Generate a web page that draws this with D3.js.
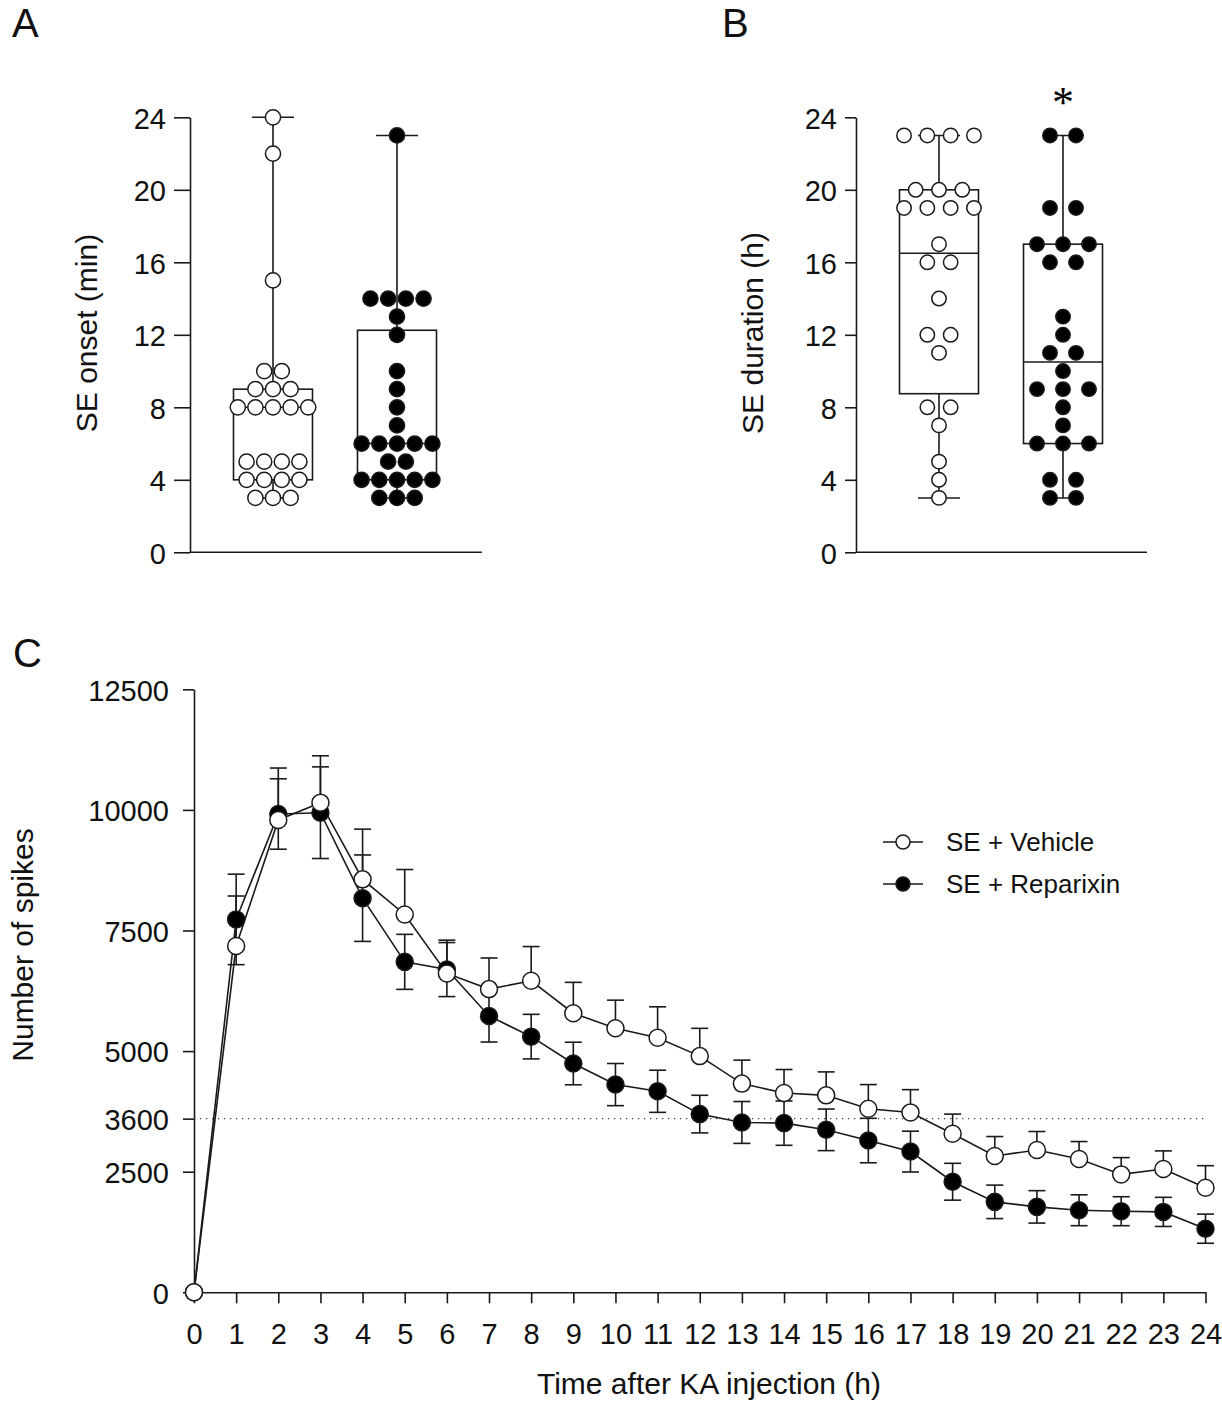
<!DOCTYPE html>
<html>
<head>
<meta charset="utf-8">
<script src="https://cdn.jsdelivr.net/npm/d3@7"></script>
<style>
  body { margin: 0; background: #fff; }
  svg { display: block; font-family: "Liberation Sans", Arial, sans-serif; }
</style>
</head>
<body>
<svg id="fig" width="1222" height="1408"></svg>
<script>
// ---- data ----
const groups = ['Vehicle', 'Reparixin'];
const boxTicks = [0, 4, 8, 12, 16, 20, 24];

// A: SE onset (min), one value per animal
const onsetVehicle = [24, 22, 15, 10, 10, 9, 9, 9, 8, 8, 8, 8, 8, 5, 5, 5, 5, 4, 4, 4, 4, 3, 3, 3];
const onsetReparixin = [23, 14, 14, 14, 14, 13, 12, 10, 9, 8, 7, 6, 6, 6, 6, 6, 5, 5, 4, 4, 4, 4, 4, 3, 3, 3];

// B: SE duration (h)
const durationVehicle = [23, 23, 23, 23, 20, 20, 20, 19, 19, 19, 19, 17, 16, 16, 14, 12, 12, 11, 8, 8, 7, 5, 4, 3];
const durationReparixin = [23, 23, 19, 19, 17, 17, 17, 16, 16, 13, 12, 11, 11, 10, 9, 9, 9, 8, 7, 6, 6, 6, 4, 4, 3, 3];

// C: number of spikes per hour, mean and SEM
const hours = [0, 1, 2, 3, 4, 5, 6, 7, 8, 9, 10, 11, 12, 13, 14, 15, 16, 17, 18, 19, 20, 21, 22, 23, 24];
const spikeTicks = [0, 2500, 3600, 5000, 7500, 10000, 12500];
const vehicleMean = [0, 7180, 9792, 10150, 8560, 7833, 6610, 6285, 6458, 5785, 5472, 5278, 4896, 4326, 4132, 4083, 3806, 3729, 3285, 2826, 2951, 2764, 2444, 2556, 2167];
const vehicleSem = [0, 1035, 1076, 972, 1041, 931, 690, 645, 709, 640, 584, 640, 576, 487, 486, 486, 500, 472, 409, 403, 382, 361, 348, 375, 458];
const reparixinMean = [0, 7730, 9915, 9942, 8170, 6850, 6690, 5729, 5300, 4743, 4306, 4167, 3694, 3521, 3507, 3368, 3146, 2917, 2292, 1875, 1771, 1701, 1681, 1667, 1319];
const reparixinSem = [0, 938, 730, 950, 896, 570, 560, 541, 462, 441, 437, 437, 390, 434, 460, 431, 461, 423, 382, 347, 336, 320, 300, 302, 302];

const svg = d3.select('#fig');
const ink = '#1a1a1a';

// Prism style quartiles: position p*(n+1)
function quart(sorted, p) {
    const n = sorted.length;
    const pos = p * (n + 1);
    const lo = Math.floor(pos);
    if (lo < 1) return sorted[0];
    if (lo >= n) return sorted[n - 1];
    return sorted[lo - 1] + (pos - lo) * (sorted[lo] - sorted[lo - 1]);
}

function styleAxis(g, size) {
    g.attr('font-family', null).attr('font-size', null);
    g.selectAll('.domain, .tick line').attr('stroke', ink).attr('stroke-width', 1.6);
    g.selectAll('.tick text').attr('fill', '#111').style('font-size', size + 'px');
}

function boxPanel(cfg) {
    const y = d3.scaleLinear().domain([0, 24]).range([552.3, 117.3]);
    const x = d3.scalePoint().domain(groups).range([cfg.axisX + 83, cfg.axisX + 207]);

    const ax = svg.append('g')
        .attr('transform', 'translate(' + cfg.axisX + ',0)')
        .call(d3.axisLeft(y).tickValues(boxTicks).tickSize(cfg.tick).tickPadding(cfg.pad).tickSizeOuter(0));
    styleAxis(ax, 29);
    ax.selectAll('.tick text').attr('dy', '0.37em');

    svg.append('line')
        .attr('x1', cfg.axisX).attr('x2', cfg.xEnd)
        .attr('y1', y(0)).attr('y2', y(0))
        .attr('stroke', ink).attr('stroke-width', 1.6);

    svg.append('text')
        .attr('transform', 'translate(' + cfg.titleX + ',333) rotate(-90)')
        .attr('text-anchor', 'middle')
        .style('font-size', '30px')
        .attr('fill', '#111')
        .text(cfg.title);

    cfg.series.forEach((vals, i) => {
        const s = vals.slice().sort(d3.ascending);
        const q1 = quart(s, 0.25), med = quart(s, 0.5), q3 = quart(s, 0.75);
        const lo = s[0], hi = s[s.length - 1];
        const cx = x(groups[i]);
        const g = svg.append('g').attr('stroke', ink).attr('stroke-width', 1.6).attr('fill', 'none');
        g.append('line').attr('x1', cx).attr('x2', cx).attr('y1', y(lo)).attr('y2', y(q1));
        g.append('line').attr('x1', cx).attr('x2', cx).attr('y1', y(q3)).attr('y2', y(hi));
        [lo, hi].forEach(v => g.append('line')
            .attr('x1', cx - 21).attr('x2', cx + 21).attr('y1', y(v)).attr('y2', y(v)));
        g.append('rect').attr('x', cx - 39.5).attr('width', 79)
            .attr('y', y(q3)).attr('height', y(q1) - y(q3));
        g.append('line').attr('x1', cx - 39.5).attr('x2', cx + 39.5).attr('y1', y(med)).attr('y2', y(med));

        // dots spread horizontally in rows of equal value
        const rows = d3.groups(vals, v => v);
        const pts = [];
        rows.forEach(([v, arr]) => {
            arr.forEach((d, j) => pts.push({ v: v, off: (j - (arr.length - 1) / 2) * cfg.spacing[i] }));
        });
        svg.append('g').selectAll('circle')
            .data(pts)
            .enter()
            .append('circle')
            .attr('cx', d => cx + d.off)
            .attr('cy', d => y(d.v))
            .attr('r', cfg.r)
            .attr('fill', i === 0 ? '#fff' : '#000')
            .attr('stroke', ink)
            .attr('stroke-width', 1.5);
    });
    return { x: x, y: y };
}

boxPanel({
    axisX: 190, xEnd: 482, tick: 16, pad: 8, titleX: 97,
    title: 'SE onset (min)', series: [onsetVehicle, onsetReparixin],
    spacing: [17.6, 17.7], r: 7.6
});
const pB = boxPanel({
    axisX: 856, xEnd: 1147, tick: 11, pad: 8, titleX: 763,
    title: 'SE duration (h)', series: [durationVehicle, durationReparixin],
    spacing: [23.3, 26], r: 7.2
});
svg.append('text')
    .attr('x', pB.x('Reparixin')).attr('y', 117)
    .attr('text-anchor', 'middle')
    .style('font-family', '"Liberation Serif", "Times New Roman", serif')
    .style('font-size', '44px')
    .text('*');

// ---- panel C ----
const xC = d3.scaleLinear().domain([0, 24]).range([194, 1205.5]);
const yC = d3.scaleLinear().domain([0, 12500]).range([1292.3, 689.3]);

const yAx = svg.append('g')
    .attr('transform', 'translate(194,0)')
    .call(d3.axisLeft(yC).tickValues(spikeTicks).tickFormat(d3.format('d'))
        .tickSize(11).tickPadding(14).tickSizeOuter(0));
styleAxis(yAx, 29);
yAx.selectAll('.tick text').attr('dy', '0.37em');

const xAx = svg.append('g')
    .attr('transform', 'translate(0,' + yC(0) + ')')
    .call(d3.axisBottom(xC).tickValues(hours).tickFormat(d3.format('d'))
        .tickSize(11).tickPadding(20).tickSizeOuter(0));
styleAxis(xAx, 29);

svg.append('line')
    .attr('x1', xC(0)).attr('x2', xC(24))
    .attr('y1', yC(3600)).attr('y2', yC(3600))
    .attr('stroke', '#444').attr('stroke-width', 1.3)
    .attr('stroke-dasharray', '1.3 4.7');

svg.append('text')
    .attr('transform', 'translate(33,945) rotate(-90)')
    .attr('text-anchor', 'middle')
    .style('font-size', '30px').attr('fill', '#111')
    .text('Number of spikes');
svg.append('text')
    .attr('x', 709).attr('y', 1394)
    .attr('text-anchor', 'middle')
    .style('font-size', '30px').attr('fill', '#111')
    .text('Time after KA injection (h)');

const series = [
    { name: 'SE + Reparixin', mean: reparixinMean, sem: reparixinSem, fill: '#000', both: true },
    { name: 'SE + Vehicle', mean: vehicleMean, sem: vehicleSem, fill: '#fff', both: false }
];

series.forEach(s => {
    const pts = hours.map((h, i) => ({ h: h, m: s.mean[i], e: s.sem[i] })).filter(d => d.e > 0);
    const eb = svg.append('g').attr('stroke', ink).attr('stroke-width', 1.6);
    eb.selectAll('line.v').data(pts).enter().append('line')
        .attr('x1', d => xC(d.h)).attr('x2', d => xC(d.h))
        .attr('y1', d => yC(s.both ? d.m - d.e : d.m)).attr('y2', d => yC(d.m + d.e));
    eb.selectAll('line.top').data(pts).enter().append('line')
        .attr('x1', d => xC(d.h) - 8.5).attr('x2', d => xC(d.h) + 8.5)
        .attr('y1', d => yC(d.m + d.e)).attr('y2', d => yC(d.m + d.e));
    if (s.both) {
        eb.selectAll('line.bot').data(pts).enter().append('line')
            .attr('x1', d => xC(d.h) - 8.5).attr('x2', d => xC(d.h) + 8.5)
            .attr('y1', d => yC(d.m - d.e)).attr('y2', d => yC(d.m - d.e));
    }
});

const line = d3.line().x((d, i) => xC(hours[i])).y(d => yC(d));
series.forEach(s => {
    svg.append('path')
        .attr('d', line(s.mean))
        .attr('fill', 'none').attr('stroke', ink).attr('stroke-width', 1.6);
});
series.forEach(s => {
    svg.append('g').selectAll('circle')
        .data(s.mean)
        .enter()
        .append('circle')
        .attr('cx', (d, i) => xC(hours[i]))
        .attr('cy', d => yC(d))
        .attr('r', 8.5)
        .attr('fill', s.fill)
        .attr('stroke', ink)
        .attr('stroke-width', 1.5);
});

// legend
const legend = svg.append('g').attr('transform', 'translate(883,842)');
[series[1], series[0]].forEach((s, i) => {
    const row = legend.append('g').attr('transform', 'translate(0,' + i * 42 + ')');
    row.append('line').attr('x1', 0).attr('x2', 40).attr('stroke', ink).attr('stroke-width', 1.6);
    row.append('circle').attr('cx', 20).attr('r', 7).attr('fill', s.fill).attr('stroke', ink).attr('stroke-width', 1.5);
    row.append('text').attr('x', 63).attr('dy', '0.36em')
        .style('font-size', '26px').attr('fill', '#111')
        .text(s.name);
});

// panel letters
[['A', 12, 37], ['B', 722, 37], ['C', 13, 667]].forEach(([t, px, py]) => {
    svg.append('text').attr('x', px).attr('y', py)
        .style('font-size', '40px').attr('fill', '#111')
        .text(t);
});
</script>
</body>
</html>
